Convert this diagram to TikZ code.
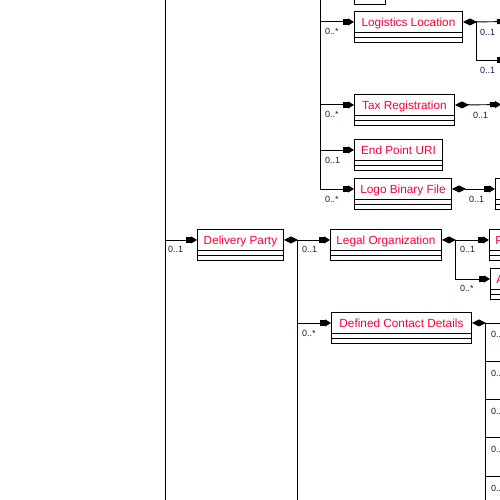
\documentclass[tikz,border=0pt]{standalone}
\usepackage{fontspec}
\setmainfont{Liberation Sans}
\usetikzlibrary{arrows.meta,calc}

\definecolor{elemred}{RGB}{250,0,55}
\definecolor{cardnavy}{RGB}{25,25,75}

\tikzset{
  wire/.style={line width=0.9pt},
  elem/.style={wire, draw, fill=white, anchor=north west, minimum height=21pt,
    inner sep=0pt, text height=8.5pt, text depth=0pt, text=elemred,
    font=\fontsize{11.8}{14}\selectfont},
  card/.style={anchor=north west, inner sep=0pt, text=cardnavy,
    font=\fontsize{9}{10}\selectfont},
  link/.style={wire, -{Square[length=5pt,width=5pt,sep=0pt]Triangle[length=6pt,width=7pt]}},
  own/.style={wire, {Diamond[length=14pt,width=7pt]}-},
}

% element box: name, x, y, width, text (two empty rows below the title)
\newcommand{\elembox}[6][]{%
  \node[elem, minimum width=#5pt, #1] (#2) at (#3,#4) {#6};
  \draw[wire, fill=white] (#2.south west) rectangle ++(#5,10);
  \draw[wire] ($(#2.south west)+(0,5)$) -- ++(#5,0);
}

\begin{document}
\begin{tikzpicture}[x=1pt, y=-1pt]
    \useasboundingbox (0,0) rectangle (500,500);
    \clip (0,0) rectangle (500,500);

    % Trunk of the parent on the left
    \coordinate (left) at (165,-10);
    \draw[wire] (left) -- (165,510);

    % Delivery Party
    \elembox{dp}{197}{229}{86}{Delivery Party}
    \draw[link] (left) |- (dp.west);
    \node[card] (cdp) at (168,246) {0..1};

    % Children of the element above
    \coordinate (up) at (320,-30);
    \draw[wire, fill=white] (354,-30) rectangle (385,4);
    \elembox{ll}{354}{11}{108}{Logistics Location}
    \elembox{tr}{354}{94}{100}{Tax Registration}
    \elembox{ep}{354}{139}{88}{End Point URI}
    \elembox{lb}{354}{178}{97}{Logo Binary File}
    \foreach \b in {ll,tr,ep,lb} \draw[link] (up) |- (\b.west);
    \node[card] (cll) at (325,28.5) {0..*};
    \node[card] (ctr) at (325,111.5) {0..*};
    \node[card] (cep) at (325,157) {0..1};
    \node[card] (clb) at (325,196) {0..*};

    % Logistics Location children
    \coordinate (ll1) at (508,21.5);
    \coordinate (ll2) at (508,60);
    \draw[own] (ll.east) -- ++(14,0) coordinate (llj);
    \draw[link] (llj) -- (ll1);
    \draw[link] (llj) |- (ll2);
    \node[card] (cll1) at (480,29) {0..1};
    \node[card] (cll2) at (480,67.5) {0..1};

    % Tax Registration child
    \coordinate (tr1) at (501,104.5);
    \draw[own] (tr.east) -- ++(14,0) coordinate (trj);
    \draw[link] (trj) -- (tr1);
    \node[card] (ctr1) at (473,112) {0..1};

    % Logo Binary File child
    \elembox{lb1}{495}{178}{40}{}
    \draw[own] (lb.east) -- ++(14,0) coordinate (lbj);
    \draw[link] (lbj) -- (lb1.west);
    \node[card] (clb1) at (469,196) {0..1};

    % Delivery Party children
    \elembox{lo}{330}{229}{111}{Legal Organization}
    \elembox{dcd}{331}{312}{140}{Defined Contact Details}
    \draw[own] (dp.east) -- ++(14,0) coordinate (dpj);
    \draw[wire] (dpj) -- ++(0,280);
    \draw[link] (dpj) -- (lo.west);
    \draw[link] (dpj) |- (dcd.west);
    \node[card] (clo) at (302,246) {0..1};
    \node[card] (cdcd) at (302,330) {0..*};

    % Legal Organization children
    \elembox[text width=54pt, align=left, inner xsep=6pt]{pa}{489}{229}{66}{P}
    \elembox[text width=54pt, align=left, inner xsep=6pt]{aa}{490}{268}{66}{A}
    \draw[own] (lo.east) -- ++(14,0) coordinate (loj);
    \draw[link] (loj) -- (pa.west);
    \draw[link] (loj) |- (aa.west);
    \node[card] (cpa) at (460,246.5) {0..1};
    \node[card] (caa) at (460,285.5) {0..*};

    % Defined Contact Details children
    \draw[own] (dcd.east) -- ++(14,0) coordinate (dcj);
    \draw[wire] (dcj) -- ++(0,200);
    \foreach \k in {0,...,4} {
        \coordinate (dc\k) at ($(dcj)+(40,38.3*\k)$);
        \draw[link] (dcj) |- (dc\k);
        \node[card] (cdc\k) at ($(dcj)+(5,8.5+38.3*\k)$) {0..};
    }
\end{tikzpicture}
\end{document}
